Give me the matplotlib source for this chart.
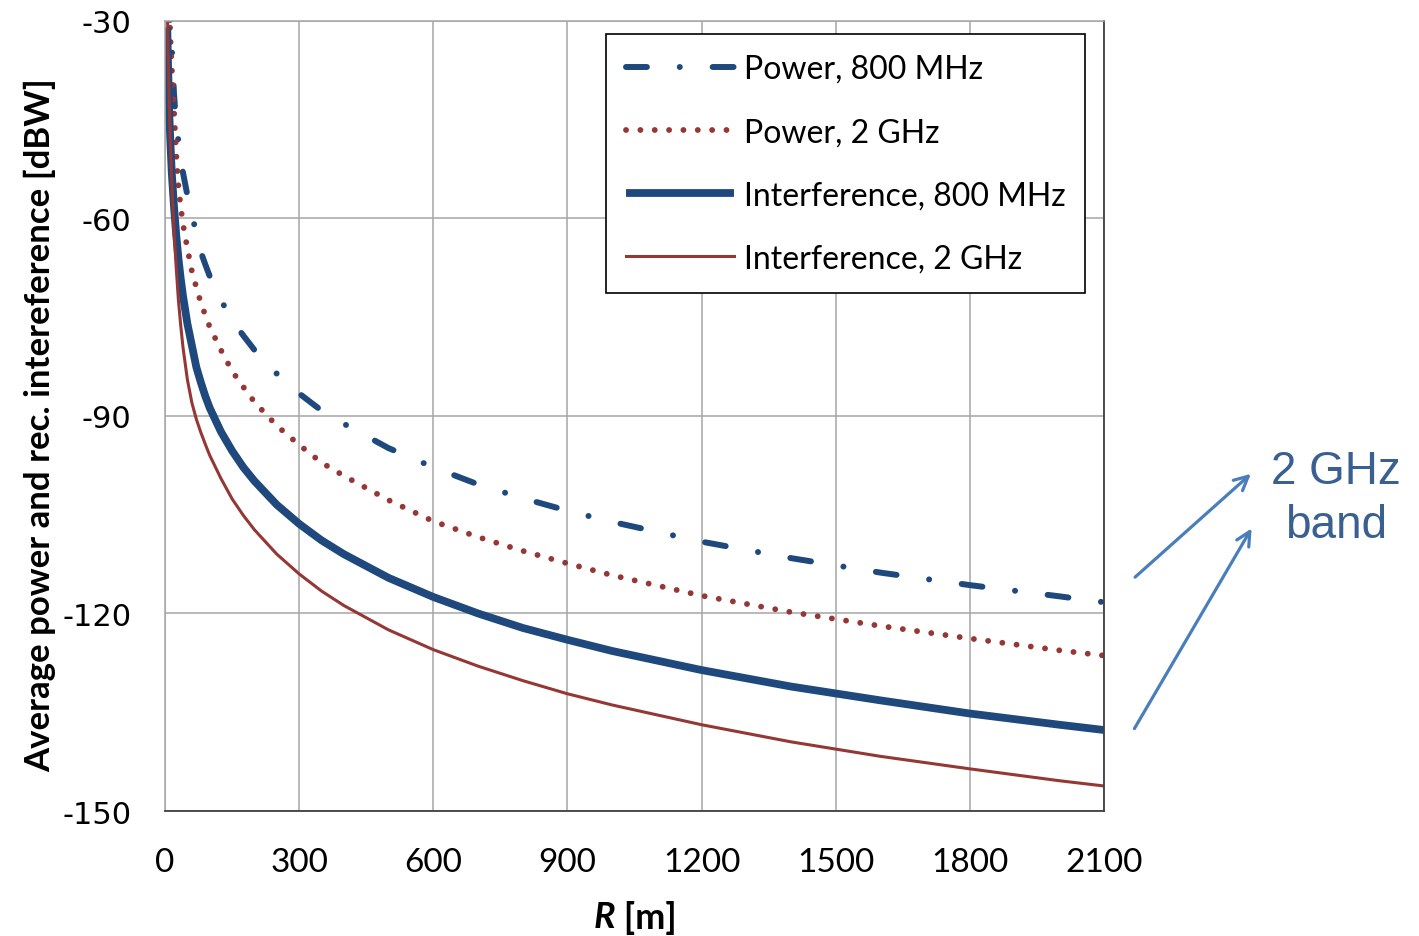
import matplotlib
matplotlib.use("Agg")
import matplotlib.pyplot as plt

# distance grid [m]
R = [5, 7, 10, 12, 15, 20, 25, 30, 35, 40, 50, 60, 70, 80, 90, 100, 125, 150, 175,
     200, 250, 300, 350, 400, 500, 600, 700, 800, 900, 1000, 1200, 1400, 1600, 1800,
     2000, 2100]

# values [dBW]
power_800 = [-14, -20, -26, -30.5, -34, -41, -45.9, -48.3, -51.0, -53.0, -56.5, -59.4,
             -62.3, -65.1, -67.0, -68.8, -72.4, -75.5, -77.8, -80.0, -83.6, -86.6, -89.2,
             -91.2, -94.9, -97.8, -100.4, -102.5, -104.4, -106.1, -109.1, -111.6, -113.8,
             -115.7, -117.4, -118.3]
power_2g = [-18, -23, -29, -32.5, -37, -43.5, -50.2, -55.1, -58.2, -60.8, -64.6, -68.0,
            -70.5, -72.8, -74.7, -76.5, -80.0, -83.2, -85.6, -87.9, -91.5, -94.4, -97.1,
            -99.1, -102.8, -106.0, -108.4, -110.5, -112.4, -114.2, -117.3, -119.8, -121.9,
            -123.8, -125.6, -126.4]
interf_800 = [-31, -37.5, -45, -48.5, -53, -58.2, -62.5, -66.1, -69.1, -71.7, -76.0,
              -79.3, -82.6, -84.9, -87.0, -88.8, -92.4, -95.3, -97.8, -99.9, -103.5,
              -106.4, -108.9, -111.0, -114.6, -117.5, -120.0, -122.2, -124.0, -125.7,
              -128.6, -131.1, -133.2, -135.2, -136.9, -137.7]
interf_2g = [-27, -35, -44, -48.5, -54.5, -61.8, -67.5, -72.5, -76.2, -79.5, -84.5, -88.0,
             -90.5, -92.5, -94.3, -96.0, -99.5, -102.6, -105.1, -107.3, -111.0, -114.0,
             -116.6, -118.8, -122.5, -125.5, -128.0, -130.2, -132.2, -133.9, -136.9,
             -139.5, -141.7, -143.6, -145.4, -146.2]

xticks = [0, 300, 600, 900, 1200, 1500, 1800, 2100]
yticks = [-150, -120, -90, -60, -30]
ytick_labels = ["-150", "-120", "-90", "-60", "-30"]

BLUE = "#1f497d"
RED = "#953735"
GRID = "#a6a6a6"

fig = plt.figure(figsize=(14.19, 9.37), dpi=100)
ax = fig.add_axes([0.1163, 0.1334, 0.6617, 0.8434])

ax.plot(R, power_800, color=BLUE, lw=4.3, linestyle=(0, (3.5, 5.5, 0.01, 5.5)),
        dash_capstyle="round", label="Power, 800 MHz")
ax.plot(R, power_2g, color=RED, lw=4.2, linestyle=(0, (0.01, 2.45)),
        dash_capstyle="round", label="Power, 2 GHz")
ax.plot(R, interf_800, color=BLUE, lw=5.6, solid_capstyle="butt",
        label="Interference, 800 MHz")
ax.plot(R, interf_2g, color=RED, lw=2.2, label="Interference, 2 GHz")

ax.set_xlim(0, 2100)
ax.set_ylim(-150, -30)
ax.set_xticks(xticks)
ax.set_xticklabels([str(v) for v in xticks], fontfamily="Lato", fontsize=24)
ax.set_yticks(yticks)
ax.set_yticklabels(ytick_labels, fontfamily="DejaVu Sans", fontsize=22)
ax.tick_params(axis="both", length=0)
ax.tick_params(axis="x", pad=26)
ax.tick_params(axis="y", pad=24)
ax.grid(True, color=GRID, lw=1.1)
ax.set_axisbelow(True)
for side in ("left", "top"):
    ax.spines[side].set_color(GRID)
    ax.spines[side].set_linewidth(1.1)
for side in ("bottom", "right"):
    ax.spines[side].set_color("#404040")
    ax.spines[side].set_linewidth(1.3)

ax.set_ylabel("Average power and rec. intereference [dBW]", fontfamily="Lato",
              fontweight="bold", fontsize=25)
ax.yaxis.set_label_coords(-0.116, 0.49)

ax.text(0.479, -0.113, "R", transform=ax.transAxes, ha="right", va="top",
        fontfamily="Lato", fontweight="bold", fontstyle="italic", fontsize=26)
ax.text(0.479, -0.113, " [m]", transform=ax.transAxes, ha="left", va="top",
        fontfamily="Lato", fontweight="bold", fontsize=26)

leg = ax.legend(loc="upper right", bbox_to_anchor=(0.98, 0.983), borderaxespad=0,
                prop={"family": "Lato", "size": 23}, handlelength=3.4,
                handletextpad=0.3, labelspacing=1.04, borderpad=0.62,
                fancybox=False, framealpha=1)
leg.get_frame().set_edgecolor("black")
leg.get_frame().set_linewidth(1.2)

# annotation outside the axes
fig.text(1336 / 1419, 1 - 499 / 937, "2 GHz\nband", ha="center", va="center",
         fontfamily="Liberation Sans", fontsize=33, color="#3a6091", linespacing=1.28)
arrow_kw = dict(arrowstyle="->,head_length=1.0,head_width=0.5", color="#4a7ebb", lw=2.3)
ax.annotate("", xy=(1253, 937 - 473), xytext=(1133, 937 - 580),
            xycoords="figure pixels", textcoords="figure pixels", arrowprops=arrow_kw,
            annotation_clip=False)
ax.annotate("", xy=(1253, 937 - 527), xytext=(1133, 937 - 732),
            xycoords="figure pixels", textcoords="figure pixels", arrowprops=arrow_kw,
            annotation_clip=False)

fig.savefig("out.png", dpi=100)
